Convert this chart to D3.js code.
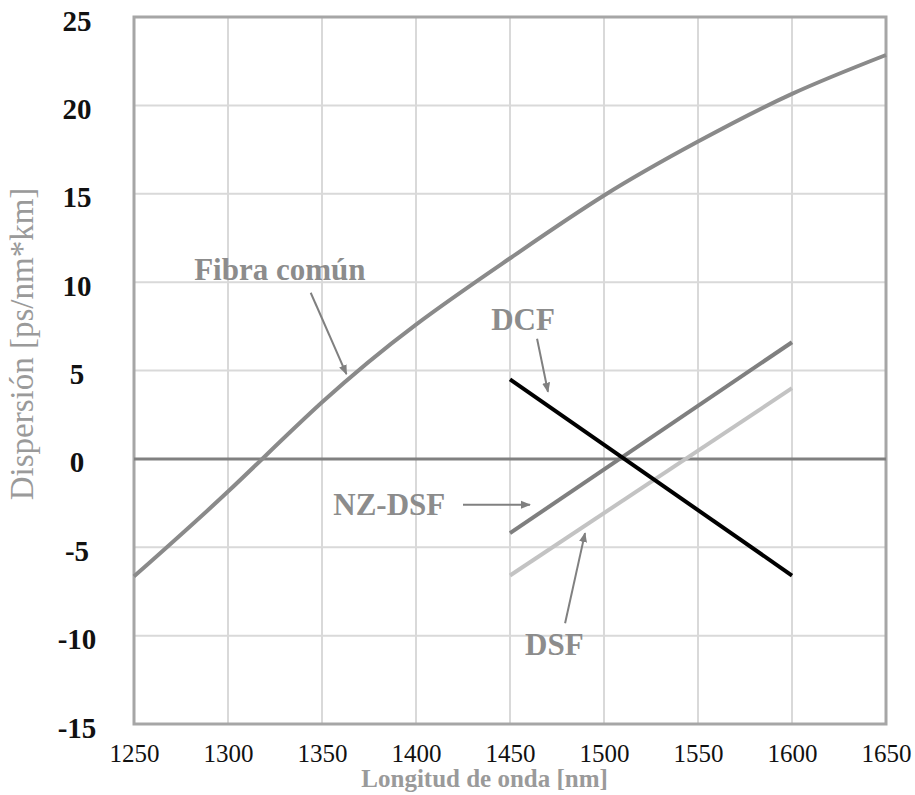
<!DOCTYPE html>
<html lang="es">
<head>
<meta charset="utf-8">
<script src="https://d3js.org/d3.v7.min.js"></script>
<style>
  body { margin: 0; background: #fff; }
  text { font-family: "Liberation Serif", "Times New Roman", serif; }
</style>
</head>
<body>
<div id="chart"></div>
<script>

// data
var wavelength = [1250, 1300, 1350, 1400, 1450, 1500, 1550, 1600, 1650];
var fibraComun = [-6.65, -1.85, 3.2, 7.6, 11.35, 14.9, 17.95, 20.65, 22.85];

var shortWl = [1450, 1600];
var dcf = [4.5, -6.6];
var nzdsf = [-4.2, 6.6];
var dsf = [-6.6, 4.0];

var xTicks = [1250, 1300, 1350, 1400, 1450, 1500, 1550, 1600, 1650];
var yTicks = [-15, -10, -5, 0, 5, 10, 15, 20, 25];

// annotation labels and arrows (data units)
var labelNames = ["Fibra común", "DCF", "NZ-DSF", "DSF"];
var labelX = [1282, 1440, 1356, 1458];
var labelY = [10.1, 7.3, -3.2, -11.1];
var arrowFrom = [[1344, 9.4], [1464.4, 6.8], [1425, -2.6], [1479.3, -9.3]];
var arrowTo = [[1363, 4.8], [1470.2, 3.8], [1460.6, -2.6], [1489.9, -4.2]];

var margin = {top: 17, right: 29, bottom: 71, left: 134},
  width = 915 - margin.left - margin.right,
  height = 795 - margin.top - margin.bottom;

var svg = d3.select("#chart")
  .append("svg")
    .attr("width", 915)
    .attr("height", 795)
  .append("g")
    .attr("transform", "translate(" + margin.left + "," + margin.top + ")");

var x = d3.scaleLinear().domain([1250, 1650]).range([0, width]);
var y = d3.scaleLinear().domain([-15, 25]).range([height, 0]);

// grid
svg.append("g")
  .selectAll("line")
  .data(xTicks)
  .enter().append("line")
    .attr("x1", function(d) { return x(d); })
    .attr("x2", function(d) { return x(d); })
    .attr("y1", 0)
    .attr("y2", height)
    .style("stroke", "#d9d9d9")
    .style("stroke-width", 2);

svg.append("g")
  .selectAll("line")
  .data(yTicks)
  .enter().append("line")
    .attr("x1", 0)
    .attr("x2", width)
    .attr("y1", function(d) { return y(d); })
    .attr("y2", function(d) { return y(d); })
    .style("stroke", "#d9d9d9")
    .style("stroke-width", 2);

// frame
svg.append("rect")
  .attr("x", 0)
  .attr("y", 0)
  .attr("width", width)
  .attr("height", height)
  .style("fill", "none")
  .style("stroke", "#a6a6a6")
  .style("stroke-width", 3);

// zero line
svg.append("line")
  .attr("x1", 0)
  .attr("x2", width)
  .attr("y1", y(0))
  .attr("y2", y(0))
  .style("stroke", "#808080")
  .style("stroke-width", 3);

// axes (labels only), plain hyphen for negatives
var fmt = function(d) { return String(d); };

var xAxis = svg.append("g")
  .attr("transform", "translate(0," + height + ")")
  .call(d3.axisBottom(x).tickValues(xTicks).tickSize(0).tickPadding(20).tickFormat(fmt));
xAxis.select(".domain").remove();
xAxis.selectAll("text")
  .style("font-family", "Liberation Serif")
  .style("font-size", "25px")
  .style("fill", "#111");

var yAxis = svg.append("g")
  .call(d3.axisLeft(y).tickValues(yTicks).tickSize(0).tickFormat(fmt));
yAxis.select(".domain").remove();
yAxis.selectAll("text")
  .attr("x", -57)
  .attr("dy", "0.45em")
  .style("text-anchor", "middle")
  .style("font-family", "Liberation Serif")
  .style("font-weight", "bold")
  .style("font-size", "29px")
  .style("fill", "#111");

// axis titles
svg.append("text")
  .attr("x", x(1436.5))
  .attr("y", height + 63)
  .attr("text-anchor", "middle")
  .style("font-weight", "bold")
  .style("font-size", "25px")
  .style("fill", "#9a9a9a")
  .text("Longitud de onda [nm]");

svg.append("text")
  .attr("transform", "translate(" + (-101) + "," + y(6.5) + ") rotate(-90)")
  .attr("text-anchor", "middle")
  .style("font-size", "33px")
  .style("fill", "#9a9a9a")
  .text("Dispersión [ps/nm*km]");

// curves
var line = d3.line()
  .x(function(d) { return x(d[0]); })
  .y(function(d) { return y(d[1]); })
  .curve(d3.curveNatural);

svg.append("path")
  .datum(d3.zip(wavelength, fibraComun))
  .attr("d", line)
  .style("fill", "none")
  .style("stroke", "#8a8a8a")
  .style("stroke-width", 4);

var straight = [
  {vals: nzdsf, color: "#7f7f7f"},
  {vals: dsf, color: "#c3c3c3"},
  {vals: dcf, color: "#000000"}
];

straight.forEach(function(s) {
  svg.append("path")
    .datum(d3.zip(shortWl, s.vals))
    .attr("d", line)
    .style("fill", "none")
    .style("stroke", s.color)
    .style("stroke-width", 4);
});

// arrowhead
svg.append("defs").append("marker")
  .attr("id", "head")
  .attr("viewBox", "0 0 10 10")
  .attr("refX", 9)
  .attr("refY", 5)
  .attr("markerWidth", 5)
  .attr("markerHeight", 5)
  .attr("orient", "auto")
  .append("path")
    .attr("d", "M0,1 L10,5 L0,9 z")
    .style("fill", "#808080");

arrowFrom.forEach(function(a, i) {
  svg.append("line")
    .attr("x1", x(a[0]))
    .attr("y1", y(a[1]))
    .attr("x2", x(arrowTo[i][0]))
    .attr("y2", y(arrowTo[i][1]))
    .style("stroke", "#808080")
    .style("stroke-width", 2)
    .attr("marker-end", "url(#head)");
});

labelNames.forEach(function(t, i) {
  svg.append("text")
    .attr("x", x(labelX[i]))
    .attr("y", y(labelY[i]))
    .style("font-weight", "bold")
    .style("font-size", "31px")
    .style("fill", "#8c8c8c")
    .text(t);
});

</script>
</body>
</html>
